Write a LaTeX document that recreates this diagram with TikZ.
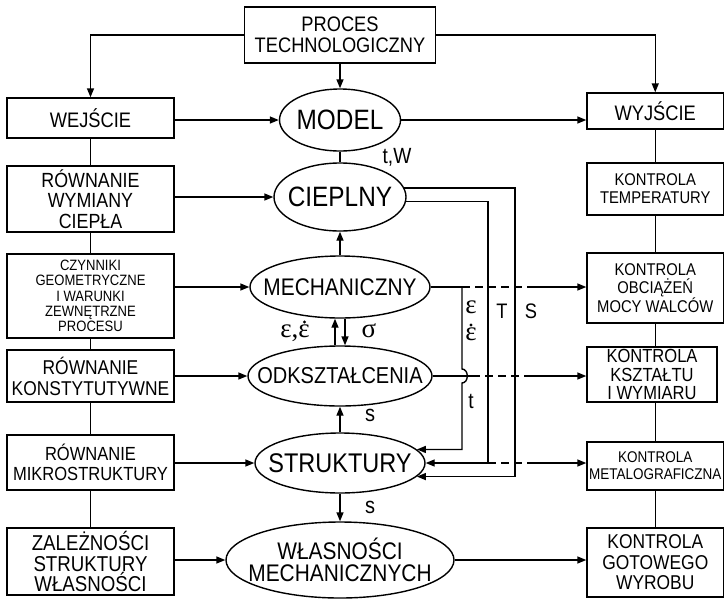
\documentclass[tikz,border=0pt]{standalone}
\usepackage{fontspec}
\setmainfont{Liberation Sans}[FakeStretch=0.87]
\newfontfamily\grk{Liberation Serif}
\usetikzlibrary{shapes.geometric,arrows.meta}
\newcommand{\fsz}[2]{\fontsize{#1}{#2}\selectfont}
\begin{document}
\begin{tikzpicture}[x=1pt,y=-1pt,
  line width=1.4pt,
  box/.style={draw, rectangle, inner xsep=0pt, inner ysep=1.5pt, align=center},
  ell/.style={draw, ellipse, inner sep=0pt},
  arr/.style={-{Triangle[length=9pt,width=7pt]}},
  dsh/.style={dash pattern=on 8pt off 5pt},
  lbl/.style={inner sep=0pt, anchor=base},
  dotmark/.style={fill, draw=none}
]
\useasboundingbox (0,0) rectangle (725,598);

% left column
\node[box, minimum width=191pt, minimum height=56pt, font=\fsz{21}{21}] (proc) at (340,35) {PROCES\\TECHNOLOGICZNY};
\node[box, minimum width=167pt, minimum height=40pt, font=\fsz{21}{21}] (wej) at (90.5,118) {WEJŚCIE};
\node[box, minimum width=167pt, minimum height=66pt, font=\fsz{20.5}{20.5}] (rwc) at (90.5,199) {RÓWNANIE\\WYMIANY\\CIEPŁA};
\node[box, minimum width=167pt, minimum height=84pt, font=\fsz{15}{15.3}] (czyn) at (90.5,296) {CZYNNIKI\\GEOMETRYCZNE\\I WARUNKI\\ZEWNĘTRZNE\\PROCESU};
\node[box, minimum width=167pt, minimum height=52pt, font=\fsz{20}{21}] (rk) at (90.5,376) {RÓWNANIE\\KONSTYTUTYWNE};
\node[box, minimum width=167pt, minimum height=55pt, font=\fsz{19}{20.5}] (rm) at (90.5,462.5) {RÓWNANIE\\MIKROSTRUKTURY};
\node[box, minimum width=167pt, minimum height=67pt, font=\fsz{21.5}{20.5}] (zal) at (90.5,561.5) {ZALEŻNOŚCI\\STRUKTURY\\WŁASNOŚCI};

% right column
\node[box, minimum width=136.5pt, minimum height=36pt, font=\fsz{21}{21}] (wyj) at (655.25,111) {WYJŚCIE};
\node[box, minimum width=136.5pt, minimum height=52pt, font=\fsz{17}{18}] (kt) at (655.25,189) {KONTROLA\\TEMPERATURY};
\node[box, minimum width=136.5pt, minimum height=70pt, font=\fsz{17}{18.5}] (kob) at (655.25,288) {KONTROLA\\OBCIĄŻEŃ\\MOCY WALCÓW};
\node[box, minimum width=130pt, minimum height=55pt, font=\fsz{19}{18.5}] (kk) at (652,374.5) {KONTROLA\\KSZTAŁTU\\I WYMIARU};
\node[box, minimum width=136.5pt, minimum height=48pt, font=\fsz{15.5}{17}] (km) at (655.25,466) {KONTROLA\\METALOGRAFICZNA};
\node[box, minimum width=136.5pt, minimum height=69pt, font=\fsz{20}{20.5}] (kg) at (655.25,562.5) {KONTROLA\\GOTOWEGO\\WYROBU};

% ellipses
\node[ell, minimum width=121pt, minimum height=62pt, label={[font=\fsz{28}{28}]center:MODEL}] (model) at (340,120) {};
\node[ell, minimum width=132pt, minimum height=68pt, label={[font=\fsz{28}{28}]center:CIEPLNY}] (ciep) at (340,197) {};
\node[ell, minimum width=180pt, minimum height=62pt, label={[font=\fsz{24}{24}]center:MECHANICZNY}] (mech) at (340,287) {};
\node[ell, minimum width=184pt, minimum height=60pt, label={[font=\fsz{23}{23}]center:ODKSZTAŁCENIA}] (odk) at (340,376) {};
\node[ell, minimum width=170pt, minimum height=60pt, label={[font=\fsz{27}{27}]center:STRUKTURY}] (str) at (340,463) {};
\node[ell, minimum width=228pt, minimum height=76pt, label={[font=\fsz{24}{22}, align=center]center:WŁASNOŚCI\\MECHANICZNYCH}] (wl) at (340,560) {};

% main connectors
\draw[arr] (proc.west) -| (wej.north);
\draw[arr] (proc.east) -| (wyj.north);
\draw[arr] (proc.south) -- (model.north);
\draw[arr] (wej.east |- model.west) -- (model.west);
\draw[arr] (model.east) -- (model.east -| wyj.west);
\draw (model.south) -- (ciep.north);
\draw[arr] (rwc.east |- ciep.west) -- (ciep.west);
\draw[arr] (mech.north) -- (ciep.south);
\draw[arr] (czyn.east |- mech.west) -- (mech.west);
\draw[arr] ([xshift=-5pt]odk.north) -- ([xshift=-5pt]mech.south);
\draw[arr] ([xshift=5pt]mech.south) -- ([xshift=5pt]odk.north);
\draw[arr] (rk.east |- odk.west) -- (odk.west);
\draw[arr] (str.north) -- (odk.south);
\draw[arr] (rm.east |- str.west) -- (str.west);
\draw[arr] (str.south) -- (wl.north);
\draw[arr] (zal.east |- wl.west) -- (wl.west);
\draw[arr] (wl.east) -- (wl.east -| kg.west);

% column links
\draw (wej) -- (rwc);
\draw (rwc) -- (czyn);
\draw (czyn) -- (rk);
\draw (rk) -- (rm);
\draw (rm) -- (zal);
\draw (wyj) -- (kt);
\draw (kt) -- (kob);
\draw (kob.south) -- (kob.south |- kk.north);
\draw (kk.south -| km.north) -- (km.north);
\draw (km) -- (kg);

% feedback lines
\coordinate (e1) at (462,287);
\coordinate (d1) at (532,287);
\coordinate (h1) at (462,369);
\coordinate (h2) at (462,383);
\coordinate (o1) at (472,376);
\coordinate (d2) at (532,376);
\coordinate (tl) at (488,300);
\coordinate (sl) at (515,300);
\coordinate (d3) at (532,463);

\draw (mech.east) -- (e1);
\draw[dsh] (e1) -- (d1);
\draw[arr] (d1) -- (d1 -| kob.west);
\draw[arr] (e1) -- (h1) .. controls +(7,0) and +(7,0) .. (h2) |- (str.10);
\draw (odk.east) -- (o1);
\draw[dsh] (o1) -- (d2);
\draw[arr] (d2) -- (d2 -| kk.west);
\draw[arr] (ciep.-4.4) -| (tl) |- (str.east);
\draw[arr] (ciep.8.1) -| (sl) |- (str.-10.5);
\draw[dsh] (tl |- str.east) -- (d3);
\draw[arr] (d3) -- (d3 -| km.west);

% labels
\node[lbl, font=\fsz{22}{22}] (ltw) at (397,163) {t,W};
\node[lbl, font=\grk\fsz{27}{27}] (leps) at (295,337) {ε,ε};
\fill[dotmark] ([xshift=-6pt,yshift=15pt]leps.base east) circle (1.6pt);
\node[lbl, font=\grk\fsz{27}{27}] (lsig) at (369,337) {σ};
\node[lbl, font=\grk\fsz{27}{27}] (le1) at (471,313) {ε};
\node[lbl, font=\grk\fsz{27}{27}] (le2) at (471,340) {ε};
\fill[dotmark] ([yshift=15pt]le2.base) circle (1.6pt);
\node[lbl, font=\fsz{21}{21}] (lT) at (502,318) {T};
\node[lbl, font=\fsz{21}{21}] (lS) at (531,318) {S};
\node[lbl, font=\fsz{22}{22}] (lt) at (471,408) {t};
\node[lbl, font=\fsz{23}{23}] (ls1) at (370,421) {s};
\node[lbl, font=\fsz{23}{23}] (ls2) at (370,513) {s};
\end{tikzpicture}
\end{document}
